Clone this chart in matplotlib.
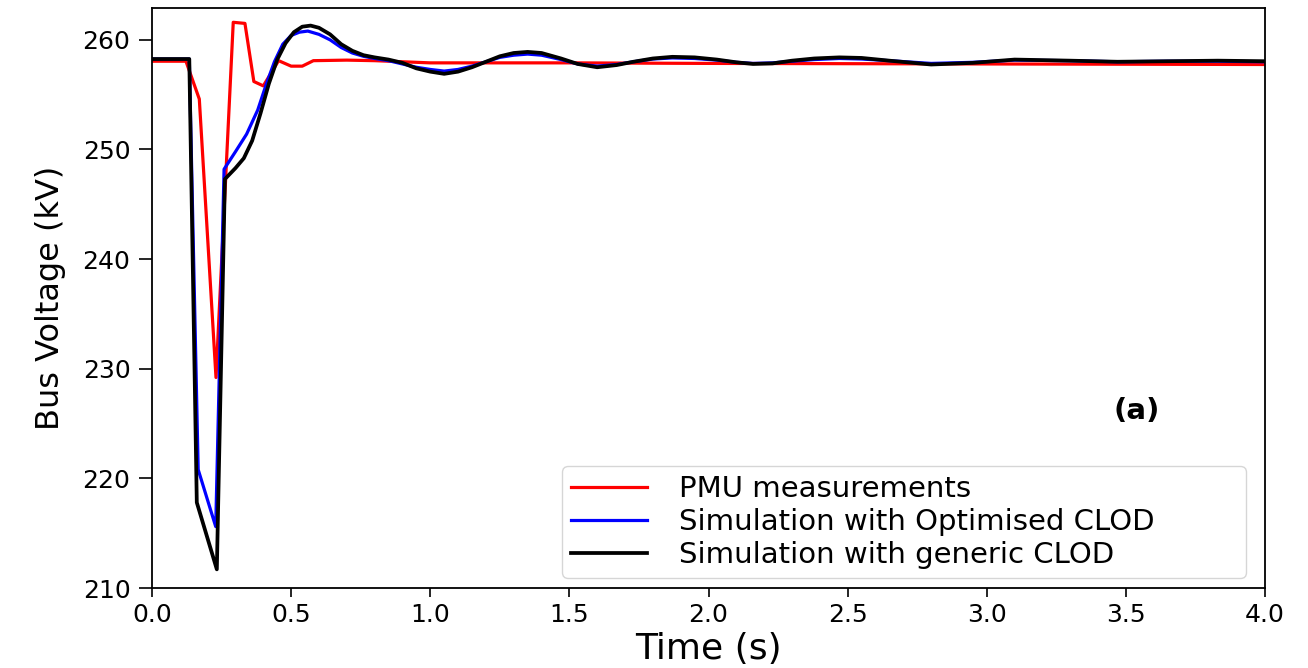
import matplotlib
matplotlib.use("Agg")
import matplotlib.pyplot as plt

# ---- data ----
t_pmu = [0.0, 0.122, 0.17, 0.23, 0.292, 0.334, 0.366, 0.40, 0.455, 0.50, 0.54, 0.58,
         0.70, 0.80, 1.0, 1.5, 2.0, 3.0, 4.0]
v_pmu = [258.05, 258.05, 254.6, 229.2, 261.6, 261.5, 256.2, 255.8, 258.1, 257.6, 257.6,
         258.1, 258.15, 258.1, 257.9, 257.9, 257.85, 257.8, 257.75]

t_opt = [0.0, 0.134, 0.166, 0.229, 0.259, 0.30, 0.34, 0.38, 0.41, 0.44, 0.47, 0.50, 0.53,
         0.56, 0.60, 0.64, 0.68, 0.72, 0.76, 0.80, 0.85, 0.90, 0.95, 1.0, 1.05, 1.1, 1.15,
         1.2, 1.25, 1.3, 1.35, 1.4, 1.47, 1.53, 1.6, 1.67, 1.73, 1.8, 1.87, 1.95, 2.03,
         2.1, 2.16, 2.23, 2.3, 2.38, 2.47, 2.55, 2.65, 2.8, 2.95, 3.1, 3.3, 3.47, 3.65,
         3.83, 4.0]
v_opt = [258.25, 258.25, 220.8, 215.6, 248.2, 249.8, 251.4, 253.6, 255.9, 258.0, 259.6,
         260.4, 260.7, 260.8, 260.5, 260.0, 259.3, 258.8, 258.5, 258.3, 258.1, 257.8,
         257.5, 257.3, 257.15, 257.3, 257.6, 258.0, 258.4, 258.6, 258.7, 258.6, 258.2,
         257.8, 257.6, 257.75, 258.0, 258.25, 258.35, 258.3, 258.15, 257.95, 257.85,
         257.9, 258.05, 258.2, 258.3, 258.25, 258.1, 257.85, 257.95, 258.15, 258.1,
         258.0, 258.05, 258.05, 258.0]

t_gen = [0.0, 0.134, 0.161, 0.233, 0.262, 0.30, 0.33, 0.36, 0.39, 0.42, 0.45, 0.48, 0.51,
         0.54, 0.57, 0.60, 0.64, 0.68, 0.72, 0.76, 0.80, 0.85, 0.90, 0.95, 1.0, 1.05, 1.1,
         1.15, 1.2, 1.25, 1.3, 1.35, 1.4, 1.47, 1.53, 1.6, 1.67, 1.73, 1.8, 1.87, 1.95,
         2.03, 2.1, 2.16, 2.23, 2.3, 2.38, 2.47, 2.55, 2.65, 2.8, 2.95, 3.1, 3.3, 3.47,
         3.65, 3.83, 4.0]
v_gen = [258.25, 258.25, 217.8, 211.7, 247.3, 248.3, 249.2, 250.8, 253.3, 256.0, 258.2,
         259.7, 260.7, 261.2, 261.3, 261.1, 260.5, 259.6, 259.0, 258.6, 258.4, 258.2,
         257.9, 257.4, 257.1, 256.9, 257.1, 257.5, 258.0, 258.5, 258.8, 258.9, 258.8,
         258.3, 257.8, 257.5, 257.7, 258.0, 258.3, 258.45, 258.4, 258.2, 257.95, 257.8,
         257.85, 258.1, 258.3, 258.4, 258.35, 258.1, 257.75, 257.9, 258.2, 258.1, 258.0,
         258.05, 258.1, 258.05]

labels = ["PMU measurements", "Simulation with Optimised CLOD",
          "Simulation with generic CLOD"]
colors = ["#ff0000", "#0000ff", "#000000"]
x_ticks = [0.0, 0.5, 1.0, 1.5, 2.0, 2.5, 3.0, 3.5, 4.0]
y_ticks = [210, 220, 230, 240, 250, 260]

fig = plt.figure(figsize=(13.08, 6.68), dpi=100)
ax = fig.add_axes([152 / 1308, 1 - 588 / 668, (1265 - 152) / 1308, (588 - 7.5) / 668])

ax.plot(t_pmu, v_pmu, color=colors[0], lw=2.3, label=labels[0])
ax.plot(t_opt, v_opt, color=colors[1], lw=2.3, label=labels[1])
ax.plot(t_gen, v_gen, color=colors[2], lw=2.7, label=labels[2])

ax.set_xlim(0, 4)
ax.set_ylim(210, 262.95)
ax.set_xticks(x_ticks)
ax.set_xticklabels([f"{v:.1f}" for v in x_ticks])
ax.set_yticks(y_ticks)
ax.tick_params(axis="both", labelsize=18, width=1.2, colors="black")
ax.tick_params(axis="y", length=9.5, pad=6)
ax.tick_params(axis="x", length=6.5, pad=4)
for s in ax.spines.values():
    s.set_linewidth(1.3)

ax.set_xlabel("Time (s)", fontsize=26, labelpad=4)
ax.set_ylabel("Bus Voltage (kV)", fontsize=23, labelpad=12)

ax.text(3.54, 226.1, "(a)", fontsize=21, fontweight="bold", ha="center", va="center")

leg = ax.legend(loc="lower left",
                bbox_to_anchor=((562 - 152) / 1113, 10 / 580.5, 684 / 1113, 115 / 580.5),
                mode="expand", borderaxespad=0,
                fontsize=21, handlelength=2.6, handletextpad=1.1, labelspacing=0.18,
                borderpad=0.3, frameon=True, fancybox=True, edgecolor="#cccccc")
leg.get_frame().set_linewidth(1.0)

fig.savefig("out.png", dpi=100)
